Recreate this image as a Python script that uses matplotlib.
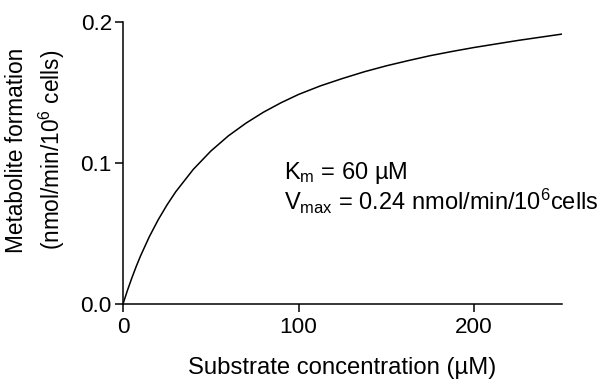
import matplotlib
import numpy as np
import matplotlib.pyplot as plt

matplotlib.use('Agg')

plt.rcParams['font.family'] = ['Liberation Sans', 'DejaVu Sans']
plt.rcParams['mathtext.fontset'] = 'custom'
plt.rcParams['mathtext.rm'] = 'Liberation Sans'
plt.rcParams['mathtext.it'] = 'Liberation Sans:italic'

# values
substrate = [0, 1, 2.5, 5, 7.5, 10, 15, 20, 25, 30, 40, 50, 60, 70, 80, 90,
             100, 112.5, 125, 137.5, 150, 162.5, 175, 187.5, 200, 225, 250]
formation = [0, 0.0039, 0.0096, 0.0184, 0.0266, 0.0342, 0.0478, 0.0597,
             0.0702, 0.0796, 0.0955, 0.1085, 0.1193, 0.1283, 0.1361, 0.1428,
             0.1487, 0.1548, 0.1600, 0.1648, 0.1690, 0.1727, 0.1762, 0.1792,
             0.1820, 0.1870, 0.1915]

x_ticks = [0, 100, 200]
y_ticks = [0.0, 0.1, 0.2]

fig = plt.figure(figsize=(6.03, 3.81), dpi=100)
ax = fig.add_axes([0.204, 0.202, 0.728, 0.740])

ax.plot(substrate, formation, color='black', lw=1.1)

ax.set_xlim(0, 250)
ax.set_ylim(0, 0.2)
ax.set_xticks(x_ticks)
ax.set_yticks(y_ticks)
ax.set_xticklabels([str(t) for t in x_ticks])
ax.set_yticklabels(['%.1f' % t for t in y_ticks])

for s in ['top', 'right']:
    ax.spines[s].set_visible(False)
for s in ['left', 'bottom']:
    ax.spines[s].set_linewidth(1.1)
ax.tick_params(width=1.1, length=6, labelsize=16.2)
ax.tick_params(axis='x', pad=3)
ax.tick_params(axis='y', pad=2)

fig.text(0.568, 0.034, 'Substrate concentration (µM)', fontsize=17.2,
         ha='center', va='center')
fig.text(17 / 603, 0.606, 'Metabolite formation', fontsize=16.3,
         rotation=90, ha='center', va='center')
fig.text(52 / 603, 0.606, '(nmol/min/10$^6$ cells)', fontsize=16.3,
         rotation=90, ha='center', va='center')

ax.text(91.7, 0.0887, 'K$_\\mathrm{m}$ = 60 µM', fontsize=17,
        va='baseline')
ax.text(91.7, 0.0667, 'V$_\\mathrm{max}$ = 0.24 nmol/min/10$^6$cells',
        fontsize=17, va='baseline')

fig.savefig('out.png', dpi=100)
plt.close()
